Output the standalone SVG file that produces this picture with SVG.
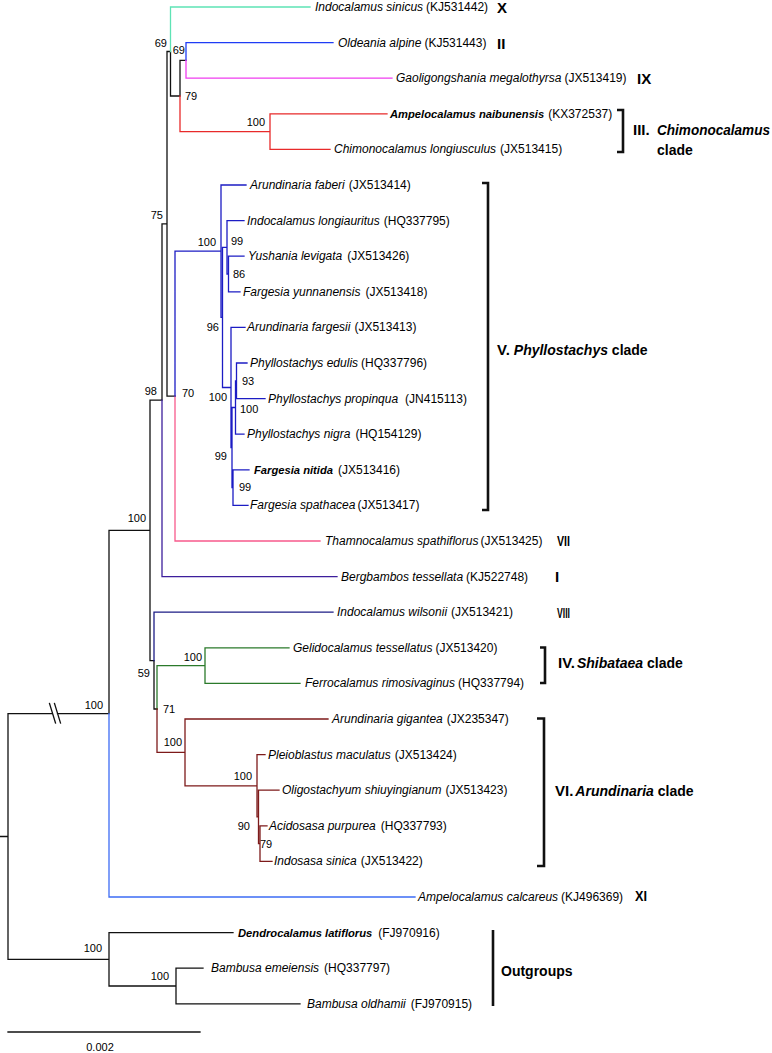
<svg xmlns="http://www.w3.org/2000/svg" width="772" height="1053" viewBox="0 0 772 1053">
<style>
text{font-family:"Liberation Sans",Arial,sans-serif;fill:#000}
.lf{font-size:12px}
.it{font-style:italic}
.bi{font-style:italic;font-weight:bold}
.lbi{font-style:italic;font-weight:bold;font-size:11.2px}
.bs{font-size:11px}
.rn{font-size:15px;font-weight:bold}
.cl{font-size:14px;font-weight:bold}
.br{fill:none;stroke-width:1.3;stroke-linecap:square}
.k{stroke:#111}
.aq{stroke:#5ee3b5}
.b1{stroke:#1f3cf5}
.mg{stroke:#f03ef0}
.rd{stroke:#e82a2a}
.pb{stroke:#1c1cc4}
.pk{stroke:#f75a8c}
.ind{stroke:#3d1f9c}
.nv{stroke:#1d1d85}
.gr{stroke:#2b7a2b}
.bn{stroke:#7d1a1a}
.lb{stroke:#3d6cf5}
.bk{fill:none;stroke:#111;stroke-width:2.6}
</style>
<rect width="772" height="1053" fill="#fff"/>
<g id="connectors">
<path class="br k" d="M0 836.5 H8 M8 836.5 V713.7 H52 M57.5 713.7 H109 M8 836.5 V959.3 H109 M109 713.7 V530.4 H150 M150 530.4 V400.2 H162 M150 530.4 V660.6 H154 M162 400.2 V223.8 H167 M167 223.8 V51.5 H170.5 M167 223.8 V396.1 H175 M170.5 51.5 V96 H180 M180 96 V60.4 H186 M154 660.6 V709 H157 M109 959.3 V932.6 H233 M109 959.3 V986 H176 M176 986 V968.2 H203 M176 986 V1003.8 H300"/>
<path class="br k" d="M49.5 703.5 L55.5 723 M54.5 703.5 L60.5 723"/>
<path class="br lb" d="M109 713.7 V897 H415"/>
<path class="br ind" d="M162 400.2 V576.6 H337"/>
<path class="br aq" d="M170.5 51.5 V7 H310"/>
<path class="br rd" d="M180 96 V131.6 H270 M270 131.6 V113.8 H387 M270 131.6 V149.4 H330"/>
<path class="br b1" d="M186 60.4 V42.6 H333"/>
<path class="br mg" d="M186 60.4 V78.2 H392"/>
<path class="br pk" d="M175 396.1 V541 H320"/>
<path class="br pb" d="M175 396.1 V251.2 H221 M221 251.2 V185 H246 M221 251.2 V317.4 H222.5 M222.5 317.4 V247.3 H227 M222.5 317.4 V387.5 H231 M227 247.3 V220.6 H244 M227 247.3 V274 H228.5 M228.5 274 V256.2 H244 M228.5 274 V291.8 H240 M231 387.5 V327.4 H245 M231 387.5 V447.5 H232 M232 447.5 V407.5 H235.5 M232 447.5 V487.6 H233 M235.5 407.5 V380.8 H236.5 M235.5 407.5 V434.2 H244 M236.5 380.8 V363 H247 M236.5 380.8 V398.6 H265 M233 487.6 V469.8 H249 M233 487.6 V505.4 H248"/>
<path class="br nv" d="M154 660.6 V612.2 H333"/>
<path class="br gr" d="M157 709 V665.6 H205 M205 665.6 V647.8 H289 M205 665.6 V683.4 H300"/>
<path class="br bn" d="M157 709 V752.4 H185 M185 752.4 V719 H328 M185 752.4 V785.8 H257 M257 785.8 V754.6 H265 M257 785.8 V816.9 H258.5 M258.5 816.9 V790.2 H279 M258.5 816.9 V843.6 H260 M260 843.6 V825.8 H267 M260 843.6 V861.4 H272"/>
</g>
<g id="brackets">
<path class="bk" d="M617 110 H623 V152 H617"/>
<path class="bk" d="M482 183 H488 V510 H482"/>
<path class="bk" d="M540 647.5 H545 V683 H540"/>
<path class="bk" d="M537 718.5 H544 V866 H537"/>
<path class="bk" d="M493 930 V1006" stroke-width="3"/>
</g>
<g id="bootstrap">
<g id="n69a"><text class="bs" x="167" y="47" text-anchor="end">69</text></g>
<g id="n69b"><text class="bs" x="185" y="54" text-anchor="end">69</text></g>
<g id="n79a"><text class="bs" x="185" y="100">79</text></g>
<g id="n100chim"><text class="bs" x="265" y="126" text-anchor="end">100</text></g>
<g id="n75"><text class="bs" x="163" y="219" text-anchor="end">75</text></g>
<g id="n100p"><text class="bs" x="216" y="246" text-anchor="end">100</text></g>
<g id="n99a"><text class="bs" x="231" y="245">99</text></g>
<g id="n86"><text class="bs" x="233" y="278">86</text></g>
<g id="n96"><text class="bs" x="219" y="331" text-anchor="end">96</text></g>
<g id="n93"><text class="bs" x="242" y="385">93</text></g>
<g id="n98"><text class="bs" x="157" y="395" text-anchor="end">98</text></g>
<g id="n70"><text class="bs" x="182" y="397">70</text></g>
<g id="n100q"><text class="bs" x="227" y="401" text-anchor="end">100</text></g>
<g id="n100v"><text class="bs" x="240" y="413">100</text></g>
<g id="n99t"><text class="bs" x="227" y="460" text-anchor="end">99</text></g>
<g id="n99b"><text class="bs" x="239" y="491">99</text></g>
<g id="n100x"><text class="bs" x="146" y="522" text-anchor="end">100</text></g>
<g id="n100shib"><text class="bs" x="202" y="661" text-anchor="end">100</text></g>
<g id="n59"><text class="bs" x="150" y="677" text-anchor="end">59</text></g>
<g id="n100in"><text class="bs" x="103" y="709" text-anchor="end">100</text></g>
<g id="n71"><text class="bs" x="163" y="713">71</text></g>
<g id="n100ar"><text class="bs" x="182" y="746" text-anchor="end">100</text></g>
<g id="n100g"><text class="bs" x="252" y="780" text-anchor="end">100</text></g>
<g id="n90"><text class="bs" x="250" y="830" text-anchor="end">90</text></g>
<g id="n79k"><text class="bs" x="260" y="848">79</text></g>
<g id="n100out"><text class="bs" x="102" y="952" text-anchor="end">100</text></g>
<g id="n100bam"><text class="bs" x="169" y="980" text-anchor="end">100</text></g>
</g>
<g id="leaf00"><text class="lf" x="315" y="11"><tspan class="it">Indocalamus sinicus</tspan><tspan dx="3">(KJ531442)</tspan></text><text class="rn" x="497" y="12.5">X</text></g>
<g id="leaf01"><text class="lf" x="338" y="46.6"><tspan class="it">Oldeania alpine</tspan><tspan dx="3">(KJ531443)</tspan></text><text class="rn" x="497" y="48.5">II</text></g>
<g id="leaf02"><text class="lf" x="396" y="82.2"><tspan class="it">Gaoligongshania megalothyrsa</tspan><tspan dx="3">(JX513419)</tspan></text><text class="rn" x="637" y="83.5">IX</text></g>
<g id="leaf03"><text class="lf" x="390" y="117.8"><tspan class="lbi">Ampelocalamus naibunensis</tspan><tspan dx="4">(KX372537)</tspan></text></g>
<g id="leaf04"><text class="lf" x="334" y="153.4"><tspan class="it">Chimonocalamus longiusculus</tspan><tspan dx="4">(JX513415)</tspan></text></g>
<g id="leaf05"><text class="lf" x="250" y="189"><tspan class="it">Arundinaria faberi</tspan><tspan dx="4">(JX513414)</tspan></text></g>
<g id="leaf06"><text class="lf" x="247" y="224.6"><tspan class="it">Indocalamus longiauritus</tspan><tspan dx="4">(HQ337795)</tspan></text></g>
<g id="leaf07"><text class="lf" x="248" y="260.2"><tspan class="it">Yushania levigata</tspan><tspan dx="5">(JX513426)</tspan></text></g>
<g id="leaf08"><text class="lf" x="243" y="295.8"><tspan class="it">Fargesia yunnanensis</tspan><tspan dx="5">(JX513418)</tspan></text></g>
<g id="leaf09"><text class="lf" x="247" y="331.4"><tspan class="it">Arundinaria fargesii</tspan><tspan dx="4">(JX513413)</tspan></text></g>
<g id="leaf10"><text class="lf" x="250" y="367"><tspan class="it">Phyllostachys edulis</tspan><tspan dx="3">(HQ337796)</tspan></text></g>
<g id="leaf11"><text class="lf" x="268" y="402.6"><tspan class="it">Phyllostachys propinqua</tspan><tspan dx="7">(JN415113)</tspan></text></g>
<g id="leaf12"><text class="lf" x="247" y="438.2"><tspan class="it">Phyllostachys nigra</tspan><tspan dx="5">(HQ154129)</tspan></text></g>
<g id="leaf13"><text class="lf" x="254" y="473.8"><tspan class="lbi">Fargesia nitida</tspan><tspan dx="5">(JX513416)</tspan></text></g>
<g id="leaf14"><text class="lf" x="250" y="509.4"><tspan class="it">Fargesia spathacea</tspan><tspan dx="2">(JX513417)</tspan></text></g>
<g id="leaf15"><text class="lf" x="325" y="545"><tspan class="it">Thamnocalamus spathiflorus</tspan><tspan dx="2">(JX513425)</tspan></text><text class="rn" x="557" y="545.5" textLength="13" lengthAdjust="spacingAndGlyphs">VII</text></g>
<g id="leaf16"><text class="lf" x="341" y="580.6"><tspan class="it">Bergbambos tessellata</tspan><tspan dx="3">(KJ522748)</tspan></text><text class="rn" x="555" y="581.5">I</text></g>
<g id="leaf17"><text class="lf" x="337" y="616.2"><tspan class="it">Indocalamus wilsonii</tspan><tspan dx="4">(JX513421)</tspan></text><text class="rn" x="557" y="617.5" textLength="13" lengthAdjust="spacingAndGlyphs">VIII</text></g>
<g id="leaf18"><text class="lf" x="293" y="651.8"><tspan class="it">Gelidocalamus tessellatus</tspan><tspan dx="3">(JX513420)</tspan></text></g>
<g id="leaf19"><text class="lf" x="305" y="687.4"><tspan class="it">Ferrocalamus rimosivaginus</tspan><tspan dx="3">(HQ337794)</tspan></text></g>
<g id="leaf20"><text class="lf" x="332" y="723"><tspan class="it">Arundinaria gigantea</tspan><tspan dx="4">(JX235347)</tspan></text></g>
<g id="leaf21"><text class="lf" x="268" y="758.6"><tspan class="it">Pleioblastus maculatus</tspan><tspan dx="4">(JX513424)</tspan></text></g>
<g id="leaf22"><text class="lf" x="282" y="794.2"><tspan class="it">Oligostachyum shiuyingianum</tspan><tspan dx="4">(JX513423)</tspan></text></g>
<g id="leaf23"><text class="lf" x="269" y="829.8"><tspan class="it">Acidosasa purpurea</tspan><tspan dx="5">(HQ337793)</tspan></text></g>
<g id="leaf24"><text class="lf" x="274" y="865.4"><tspan class="it">Indosasa sinica</tspan><tspan dx="4">(JX513422)</tspan></text></g>
<g id="leaf25"><text class="lf" x="418" y="901"><tspan class="it">Ampelocalamus calcareus</tspan><tspan dx="3">(KJ496369)</tspan></text><text class="rn" x="635" y="900.5" textLength="12" lengthAdjust="spacingAndGlyphs">XI</text></g>
<g id="leaf26"><text class="lf" x="238" y="936.6"><tspan class="lbi">Dendrocalamus latiflorus</tspan><tspan dx="6">(FJ970916)</tspan></text></g>
<g id="leaf27"><text class="lf" x="211" y="972.2"><tspan class="it">Bambusa emeiensis</tspan><tspan dx="5">(HQ337797)</tspan></text></g>
<g id="leaf28"><text class="lf" x="307" y="1007.8"><tspan class="it">Bambusa oldhamii</tspan><tspan dx="5">(FJ970915)</tspan></text></g>
<g id="clade-labels">
<g id="clade-chimonocalamus"><text class="rn" x="633" y="135">III.</text><text class="cl bi" x="657" y="135" textLength="113" lengthAdjust="spacingAndGlyphs">Chimonocalamus</text><text class="cl" x="657" y="155">clade</text></g>
<g id="clade-phyllostachys"><text class="cl" x="497" y="355"><tspan class="rn">V.</tspan><tspan class="bi" dx="4">Phyllostachys</tspan> clade</text></g>
<g id="clade-shibataea"><text class="cl" x="558" y="668"><tspan class="rn">IV.</tspan><tspan class="bi" dx="2">Shibataea</tspan> clade</text></g>
<g id="clade-arundinaria"><text class="cl" x="555" y="796"><tspan class="rn">VI.</tspan><tspan class="bi" dx="2">Arundinaria</tspan> clade</text></g>
<g id="clade-outgroups"><text class="cl" x="501" y="976">Outgroups</text></g>
</g>
<g id="scale">
<path class="br k" d="M8 1032 H200"/>
<text class="bs" x="100" y="1051" text-anchor="middle">0.002</text>
</g>
</svg>
